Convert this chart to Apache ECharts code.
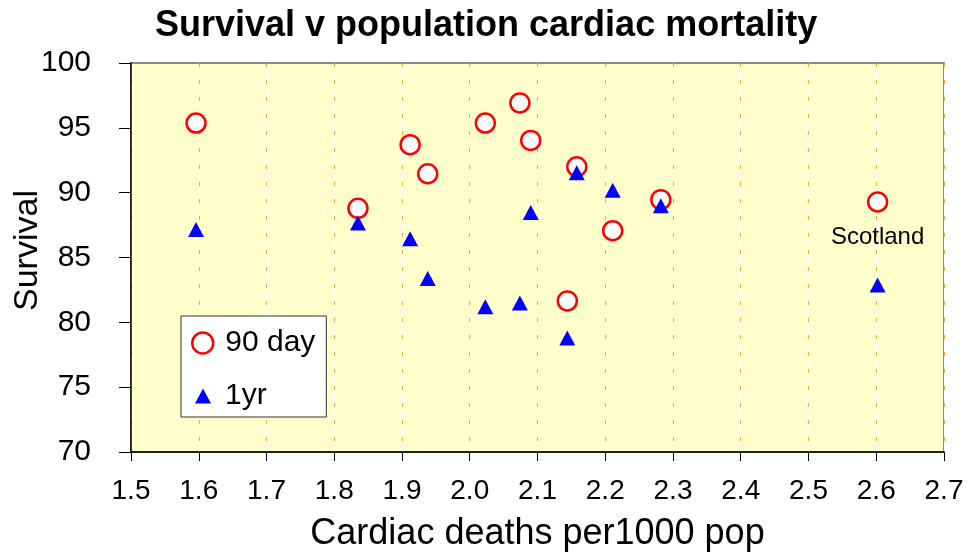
<!DOCTYPE html>
<html>
<head>
<meta charset="utf-8">
<title>Survival v population cardiac mortality</title>
<script src="https://cdn.jsdelivr.net/npm/echarts@6/dist/echarts.min.js"></script>
<style>
  html, body { margin: 0; padding: 0; background: #fff; }
  #chart { width: 968px; height: 555px; }
</style>
</head>
<body>
<div id="chart"></div>
<script>
// cardiac deaths per 1000 pop, one entry per region
const deaths = [1.596, 1.835, 1.912, 1.938, 2.023, 2.074, 2.090, 2.144, 2.158, 2.211, 2.282, 2.602]
const survival90 = [95.37, 88.79, 93.70, 91.46, 95.37, 96.92, 94.03, 81.65, 92.0, 87.07, 89.46, 89.28]
const survival1yr = [87.15, 87.66, 86.45, 83.39, 81.21, 81.50, 88.48, 78.80, 91.54, 90.18, 89.0, 82.88]
const regionLabels = ['', '', '', '', '', '', '', '', '', '', '', 'Scotland']

const xTicks = { min: 1.5, max: 2.7, step: 0.1 }
const yTicks = { min: 70, max: 100, step: 5 }

const font = "'Liberation Sans', Arial, sans-serif"

const circleStyle = { color: '#ffffff', borderColor: '#ff0000', borderWidth: 2.5, opacity: 1 }
const triangleStyle = { color: '#0000ff', opacity: 1 }

const chart = echarts.init(document.getElementById('chart'))

chart.setOption({
  animation: false,
  textStyle: { fontFamily: font },
  title: {
    text: 'Survival v population cardiac mortality',
    left: 150,
    top: 3,
    textStyle: { fontFamily: font, fontSize: 36, fontWeight: 'bold', color: '#000' }
  },
  legend: [
    {
      // the box, holds "90 day"
      data: [{ name: '90 day', icon: 'circle', itemStyle: circleStyle }],
      orient: 'vertical',
      left: 181,
      top: 316,
      padding: [12, 11, 59, 10],
      itemWidth: 21,
      itemHeight: 21,
      backgroundColor: '#ffffff',
      borderColor: '#333',
      borderWidth: 1,
      selectedMode: false,
      textStyle: { fontFamily: font, fontSize: 30, color: '#000', padding: [0, 0, 0, 7] }
    },
    {
      data: [{ name: '1yr', icon: 'triangle', itemStyle: triangleStyle }],
      orient: 'vertical',
      left: 195,
      top: 381,
      padding: 0,
      itemWidth: 16,
      itemHeight: 15,
      selectedMode: false,
      textStyle: { fontFamily: font, fontSize: 30, color: '#000', padding: [0, 0, 0, 9] }
    }
  ],
  grid: {
    left: 131,
    top: 63,
    right: 24,
    bottom: 103,
    outerBoundsMode: 'none',
    show: true,
    backgroundColor: '#ffffcc',
    borderColor: '#888',
    borderWidth: 2
  },
  xAxis: [
    {
      type: 'value',
      min: xTicks.min,
      max: xTicks.max,
      interval: xTicks.step,
      name: 'Cardiac deaths per1000 pop',
      nameLocation: 'middle',
      nameGap: 64,
      nameMoveOverlap: false,
      nameTextStyle: { fontFamily: font, fontSize: 36, color: '#000' },
      axisLine: { lineStyle: { color: '#000', width: 1.5 } },
      axisTick: { length: 9, lineStyle: { color: '#000' } },
      axisLabel: {
        fontFamily: font,
        fontSize: 28,
        color: '#000',
        margin: 25,
        formatter: v => v.toFixed(1)
      },
      splitLine: { show: true, lineStyle: { color: '#ffffff', width: 1 } }
    },
    {
      // orange dashes over the white grid lines
      type: 'value',
      min: xTicks.min,
      max: xTicks.max,
      interval: xTicks.step,
      axisLine: { show: false },
      axisTick: { show: false },
      axisLabel: { show: false },
      splitLine: { show: true, lineStyle: { color: '#ffa63a', width: 1, type: [4, 13] } }
    }
  ],
  yAxis: {
    type: 'value',
    min: yTicks.min,
    max: yTicks.max,
    interval: yTicks.step,
    name: 'Survival',
    nameLocation: 'middle',
    nameGap: 86,
    nameMoveOverlap: false,
    nameTextStyle: { fontFamily: font, fontSize: 34, color: '#000', padding: [0, 0, 0, 14] },
    axisLine: { show: true, lineStyle: { color: '#000', width: 1.5 } },
    axisTick: { show: true, length: 12, lineStyle: { color: '#000' } },
    axisLabel: { fontFamily: font, fontSize: 30, color: '#000', margin: 40 },
    splitLine: { show: false }
  },
  series: [
    {
      name: '90 day',
      type: 'scatter',
      symbol: 'circle',
      symbolSize: 19,
      itemStyle: circleStyle,
      emphasis: { disabled: true },
      data: deaths.map((x, i) => ({
        value: [x, survival90[i]],
        label: {
          show: regionLabels[i] !== '',
          formatter: regionLabels[i],
          position: 'bottom',
          distance: 13,
          fontFamily: font,
          fontSize: 24,
          color: '#000'
        }
      }))
    },
    {
      name: '1yr',
      type: 'scatter',
      symbol: 'triangle',
      symbolSize: [16, 15],
      itemStyle: triangleStyle,
      emphasis: { disabled: true },
      data: deaths.map((x, i) => [x, survival1yr[i]])
    }
  ]
})
</script>
</body>
</html>
